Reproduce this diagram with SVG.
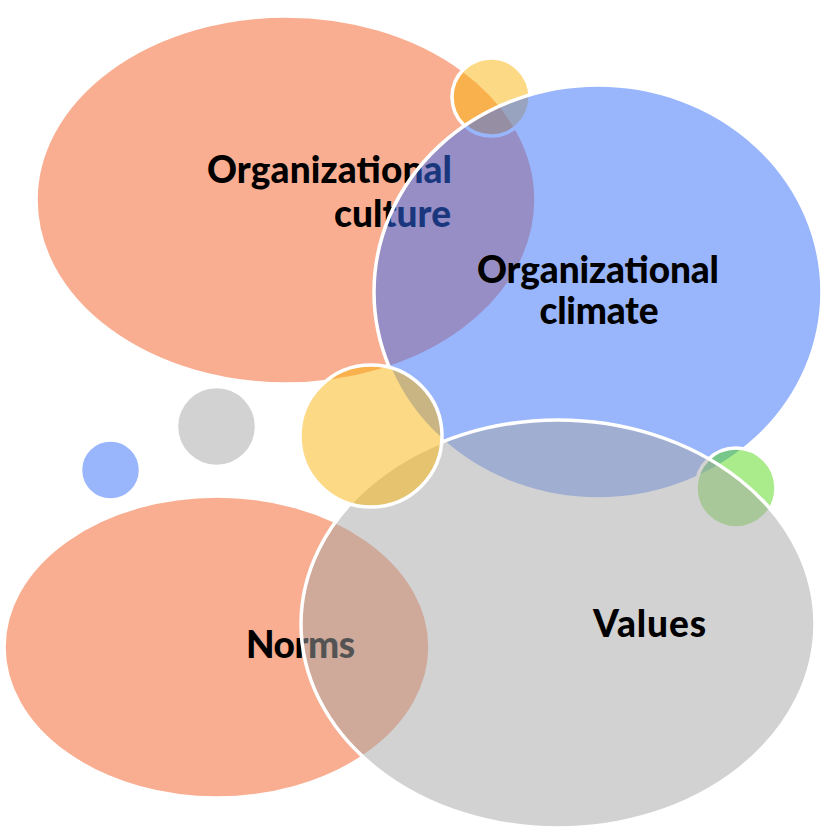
<svg xmlns="http://www.w3.org/2000/svg" width="829" height="833" viewBox="0 0 829 833">
<style>
.s{stroke:#fff;stroke-width:3.5}
.o{fill:#f35d23;fill-opacity:.5}
.b{fill:#336df9;fill-opacity:.5}
.g{fill:#a5a5a5;fill-opacity:.5}
.y{fill:#f9b30a;fill-opacity:.5}
.gr{fill:#55d71a;fill-opacity:.5}
.t{font-family:Lato,"Open Sans","Liberation Sans",sans-serif;font-weight:900;font-size:37px;fill:#000}
</style>
<rect width="829" height="833" fill="#fff"/>
<g id="culture">
<ellipse class="o s" cx="286" cy="200" rx="250" ry="184"/>
<text class="t" x="452" y="183" text-anchor="end" textLength="245">Organizational</text>
<text class="t" x="451" y="227" text-anchor="end" textLength="117">culture</text>
</g>
<g id="dot-yellow-top"><circle class="y s" cx="491" cy="97" r="39"/></g>
<g id="climate">
<ellipse class="b s" cx="598" cy="292" rx="224" ry="207"/>
<text class="t" x="598" y="283" text-anchor="middle" textLength="242">Organizational</text>
<text class="t" x="599" y="324" text-anchor="middle" textLength="119">climate</text>
</g>
<g id="dot-gray"><circle class="g s" cx="216.5" cy="426.5" r="40"/></g>
<g id="dot-blue"><circle class="b s" cx="110.5" cy="470" r="30"/></g>
<g id="dot-green"><circle class="gr s" cx="736" cy="488" r="40"/></g>
<g id="norms">
<ellipse class="o s" cx="217" cy="647" rx="213" ry="151"/>
<text class="t" x="246" y="658" textLength="109">Norms</text>
</g>
<g id="values">
<ellipse class="g s" cx="558" cy="624" rx="257" ry="204"/>
<text class="t" x="593" y="637" textLength="113">Values</text>
</g>
<g id="dot-yellow-mid"><circle class="y s" cx="371" cy="436" r="71"/></g>
<g id="connectors"/>
</svg>
